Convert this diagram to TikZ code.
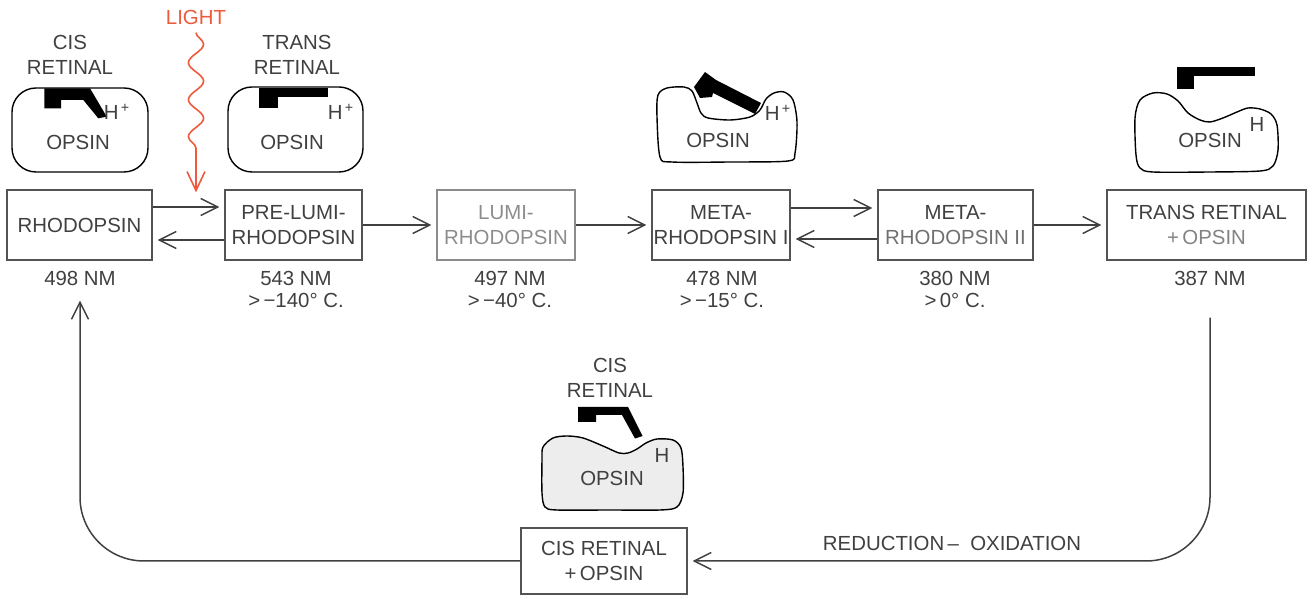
\documentclass[tikz,border=0pt]{standalone}
\usepackage{fontspec}
\setmainfont{Liberation Sans}
\usetikzlibrary{arrows.meta,decorations.pathmorphing}
\definecolor{ink}{HTML}{404040}
\definecolor{lightred}{HTML}{EE5A3C}
\definecolor{gel}{HTML}{EDEDED}
\begin{document}
\begin{tikzpicture}[x=0.5pt,y=-0.5pt,
  every node/.style={font=\fontsize{10.2}{12.5}\selectfont, text=ink, inner sep=0pt, align=center},
  state/.style={draw=ink!90, line width=0.6pt, minimum height=35pt},
  under/.style={font=\fontsize{10.2}{11}\selectfont},
  tip/.style={-{Straight Barb[length=8.5pt,width=8.5pt,line width=0.75pt]}},
  conn/.style={draw=ink, line width=0.75pt, tip, shorten >=2.5pt},
  pocket/.style={draw=black, line width=0.7pt},
]
\useasboundingbox (0,0) rectangle (1316,597);

% ---------- states of the bleaching sequence ----------
\node[state, minimum width=72.5pt] (rho)  at (79.5,225)  {RHODOPSIN};
\node[state, minimum width=68.5pt] (pre)  at (293.5,225) {PRE-LUMI-\\RHODOPSIN};
\node[state, minimum width=69pt, draw=ink!60, text=ink!60] (lumi) at (506,225) {LUMI-\\RHODOPSIN};
\node[state, minimum width=69pt]   (m1)   at (721,225)   {META-\\RHODOPSIN I};
\node[state, minimum width=77.5pt] (m2)   at (955.5,225) {META-\\{\color{ink!75}RHODOPSIN II}};
\node[state, minimum width=99.5pt] (tro)  at (1206.5,225){TRANS RETINAL\\{\color{ink!65}+\,OPSIN}};
\node[state, minimum width=83pt, minimum height=33pt] (cro) at (604,561) {CIS RETINAL\\+\,OPSIN};

% ---------- absorption maxima and temperatures ----------
\node[under] (nm498) at (80,278)   {498 NM};
\node[under] (nm543) at (296,289)  {543 NM\\>\,−140°\ C.};
\node[under] (nm497) at (510,289)  {497 NM\\>\,−40°\ C.};
\node[under] (nm478) at (722,289)  {478 NM\\>\,−15°\ C.};
\node[under] (nm380) at (955,289)  {380 NM\\>\,0°\ C.};
\node[under] (nm387) at (1210,278) {387 NM};

% ---------- transitions ----------
\draw[conn] ([yshift=9pt]rho.east) -- ([yshift=9pt]pre.west);
\draw[conn] ([yshift=-7.5pt]pre.west) -- ([yshift=-7.5pt]rho.east);
\draw[conn] (pre) -- (lumi);
\draw[conn] (lumi) -- (m1);
\draw[conn] ([yshift=8.5pt]m1.east) -- ([yshift=8.5pt]m2.west);
\draw[conn] ([yshift=-7pt]m2.west) -- ([yshift=-7pt]m1.east);
\draw[conn] (m2) -- (tro);

% regeneration loop
\draw[conn, rounded corners=32pt] ([yshift=-16pt]nm387.south) |- (cro.east);
\node (redox) at (952,543) {REDUCTION\,–\ \ OXIDATION};
\draw[conn, rounded corners=32pt, shorten >=7.5pt] (cro.west) -| (nm498.south);

% ---------- light ----------
\node[text=lightred] (light) at (196,17) {LIGHT};
\draw[draw=lightred, line width=0.8pt,
      decoration={snake, segment length=18.5pt, amplitude=3.8pt, pre length=0pt, post length=14pt},
      decorate, shorten >=-1.5pt, -{Straight Barb[length=9.5pt,width=9pt,line width=0.8pt]}]
  ([yshift=-4pt]light.south) -- (light.south |- pre.north);

% ---------- cis retinal in opsin ----------
\node (lcis1) at (70,55) {CIS\\RETINAL};
\draw[pocket, rounded corners=12pt] (12,88) rectangle (148,172);
\fill (44.3,88.3) -- (90,88.3) -- (106.7,116.7) -- (98.3,118.3) -- (83.3,100) -- (61,100) -- (61,108.3) -- (44.3,108.3) -- cycle;
\node (h1) at (117,112) {H\textsuperscript{\,+}};
\node (o1) at (78,142) {OPSIN};

% ---------- trans retinal in opsin ----------
\node (ltrans) at (297,55) {TRANS\\RETINAL};
\draw[pocket, rounded corners=12pt] (228,87) rectangle (363,172);
\fill (259,88) rectangle (328,97);
\fill (259,88) rectangle (278,108);
\node (h2) at (341,112) {H\textsuperscript{\,+}};
\node (o2) at (292,142) {OPSIN};

% ---------- metarhodopsin I: opsin unfolding ----------
\draw[pocket] plot[smooth cycle, tension=0.5] coordinates {
  (660,157) (657,117) (658,95) (667,88) (684,87) (692,91) (697,103) (701,113)
  (708,118) (730,120) (750,117) (760,110) (766,99) (774,93) (784,92) (793,100)
  (797,122) (795,153) (788,161) (730,162) (672,162)};
\fill (705,72) -- (716,80) -- (761,103) -- (755,114) -- (713,93) -- (712,97) -- (700,98) -- (694,87) -- cycle;
\node (h3) at (778,113) {H\textsuperscript{\,+}};
\node (o3) at (718,140) {OPSIN};

% ---------- trans retinal released ----------
\draw[pocket] plot[smooth cycle, tension=0.5] coordinates {
  (1140,100) (1153,93) (1167,94) (1178,101) (1188,113) (1200,120) (1210,122)
  (1223,118) (1237,112) (1248,108) (1260,109) (1271,114) (1277,125) (1278,150)
  (1273,166) (1260,171) (1210,172) (1153,172) (1140,168) (1136,155) (1135,118)};
\fill (1177,67) rectangle (1255,76);
\fill (1177,67) rectangle (1194,89);
\node (h4) at (1257,124) {H};
\node (o4) at (1210,140) {OPSIN};

% ---------- cis retinal rebound ----------
\node (lcis2) at (610,378) {CIS\\RETINAL};
\draw[pocket, fill=gel] plot[smooth cycle, tension=0.5] coordinates {
  (543,447) (553,438) (567,436) (583,438) (603,446) (619,453) (628,453)
  (637,449) (646,443) (657,439) (673,440) (681,448) (683,467) (683,493)
  (677,507) (660,510) (610,510) (557,510) (545,507) (542,493) (542,460)};
\fill (578,407) -- (628,407) -- (642.5,436) -- (635,438.5) -- (622,415) -- (596,415) -- (596,422) -- (578,422) -- cycle;
\node (h5) at (662,455) {H};
\node (o5) at (612,478) {OPSIN};
\end{tikzpicture}
\end{document}
